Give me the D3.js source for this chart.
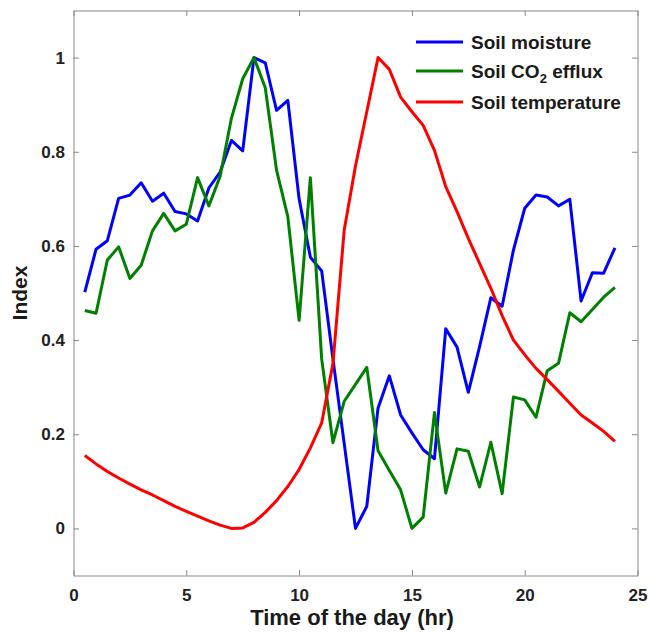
<!DOCTYPE html>
<html>
<head>
  <meta charset="utf-8">
  <title>Soil index over the day</title>
  <script src="https://cdn.jsdelivr.net/npm/d3@7/dist/d3.min.js"></script>
  <style>
    html, body {
      margin: 0;
      background: #fff;
    }

    svg {
      font-family: "Liberation Sans", Arial, Helvetica, sans-serif;
      font-weight: bold;
    }

    .axis path, .axis line {
      stroke: #888;
      stroke-width: 1px;
    }

    .axis text {
      fill: #222;
      font-size: 17px;
      font-weight: bold;
    }

    .series {
      fill: none;
      stroke-width: 3px;
      stroke-linejoin: round;
    }
  </style>
</head>
<body>
  <div id="chart"></div>

  <script>
  // hours of the day (half-hourly readings)
  var hours = [0.5, 1, 1.5, 2, 2.5, 3, 3.5, 4, 4.5, 5, 5.5, 6, 6.5, 7, 7.5, 8,
               8.5, 9, 9.5, 10, 10.5, 11, 11.5, 12, 12.5, 13, 13.5, 14, 14.5, 15, 15.5, 16,
               16.5, 17, 17.5, 18, 18.5, 19, 19.5, 20, 20.5, 21, 21.5, 22, 22.5, 23, 23.5, 24];

  var moisture = [0.502, 0.593, 0.611, 0.701, 0.708, 0.734, 0.695, 0.712, 0.673, 0.668, 0.653, 0.723, 0.757, 0.824, 0.802, 1.0,
                  0.989, 0.888, 0.909, 0.700, 0.576, 0.547, 0.360, 0.180, 0.0, 0.047, 0.256, 0.324, 0.241, 0.203, 0.167, 0.148,
                  0.424, 0.385, 0.289, 0.386, 0.490, 0.472, 0.591, 0.680, 0.708, 0.704, 0.685, 0.699, 0.483, 0.543, 0.542, 0.596];

  var efflux = [0.463, 0.457, 0.570, 0.598, 0.531, 0.559, 0.632, 0.669, 0.632, 0.646, 0.745, 0.685, 0.748, 0.871, 0.955, 1.0,
                0.936, 0.761, 0.662, 0.442, 0.745, 0.360, 0.182, 0.270, 0.306, 0.342, 0.165, 0.123, 0.082, 0.0, 0.024, 0.246,
                0.075, 0.169, 0.164, 0.088, 0.183, 0.074, 0.279, 0.273, 0.236, 0.335, 0.351, 0.458, 0.439, 0.465, 0.491, 0.512];

  var temperature = [0.155, 0.137, 0.121, 0.107, 0.094, 0.082, 0.071, 0.059, 0.047, 0.036, 0.026, 0.016, 0.007, 0.0, 0.001, 0.013,
                     0.034, 0.059, 0.089, 0.125, 0.171, 0.224, 0.350, 0.634, 0.770, 0.885, 1.0, 0.975, 0.916, 0.885, 0.856, 0.803,
                     0.726, 0.673, 0.616, 0.563, 0.510, 0.452, 0.400, 0.369, 0.340, 0.316, 0.291, 0.266, 0.241, 0.224, 0.206, 0.185];

  var xTicks = [0, 5, 10, 15, 20, 25],
      yTicks = [0, 0.2, 0.4, 0.6, 0.8, 1];

  var seriesNames = ["Soil moisture", "Soil CO2 efflux", "Soil temperature"],
      seriesColors = ["#0000ff", "#008000", "#ff0000"];

  (function () {

  var width = 651,
      height = 634,
      left = 73.5, right = 637.5, top = 10.5, bottom = 575.5;

  var svg = d3.select("#chart").append("svg")
      .attr("width", width)
      .attr("height", height);

  var x = d3.scaleLinear().domain([0, 25]).range([left, right]),
      y = d3.scaleLinear().domain([-0.1, 1.1]).range([bottom, top]);

  var tick = 5.5;

  // box with inward ticks on all four sides
  svg.append("g").attr("class", "axis")
      .attr("transform", "translate(0," + bottom + ")")
      .call(d3.axisBottom(x).tickValues(xTicks).tickSizeInner(-tick).tickSizeOuter(0).tickPadding(13).tickFormat(d3.format("d")));

  svg.append("g").attr("class", "axis")
      .attr("transform", "translate(0," + top + ")")
      .call(d3.axisTop(x).tickValues(xTicks).tickSizeInner(-tick).tickSizeOuter(0).tickFormat(""));

  svg.append("g").attr("class", "axis")
      .attr("transform", "translate(" + left + ",0)")
      .call(d3.axisLeft(y).tickValues(yTicks).tickSizeInner(-tick).tickSizeOuter(0).tickPadding(8.5).tickFormat(d3.format("")));

  svg.append("g").attr("class", "axis")
      .attr("transform", "translate(" + right + ",0)")
      .call(d3.axisRight(y).tickValues(yTicks).tickSizeInner(-tick).tickSizeOuter(0).tickFormat(""));

  svg.selectAll(".axis .domain").attr("stroke", "#888");

  var line = d3.line()
      .x(function(d, i) { return x(hours[i]); })
      .y(function(d) { return y(d); });

  [moisture, efflux, temperature].forEach(function(values, i) {
    svg.append("path")
        .attr("class", "series")
        .attr("stroke", seriesColors[i])
        .attr("d", line(values));
  });

  // axis titles
  svg.append("text")
      .attr("x", 352)
      .attr("y", 624.5)
      .attr("text-anchor", "middle")
      .attr("fill", "#1a1a1a")
      .style("font-size", "22px")
      .text("Time of the day (hr)");

  svg.append("text")
      .attr("transform", "translate(27,293) rotate(-90)")
      .attr("text-anchor", "middle")
      .attr("fill", "#1a1a1a")
      .style("font-size", "21px")
      .text("Index");

  // legend, no box
  var legendRows = [42, 71, 102];
  var legend = svg.append("g");

  seriesNames.forEach(function(name, i) {
    legend.append("line")
        .attr("x1", 416).attr("x2", 463)
        .attr("y1", legendRows[i]).attr("y2", legendRows[i])
        .attr("stroke", seriesColors[i])
        .attr("stroke-width", 3);

    var t = legend.append("text")
        .attr("x", 471)
        .attr("y", legendRows[i] + 7)
        .attr("fill", "#1a1a1a")
        .style("font-size", "19px");

    if (name.indexOf("CO2") >= 0) {
      t.append("tspan").text("Soil CO");
      t.append("tspan").attr("dy", 5).style("font-size", "13px").text("2");
      t.append("tspan").attr("dy", -5).text(" efflux");
    } else {
      t.text(name);
    }
  });

  })();
  </script>
</body>
</html>
